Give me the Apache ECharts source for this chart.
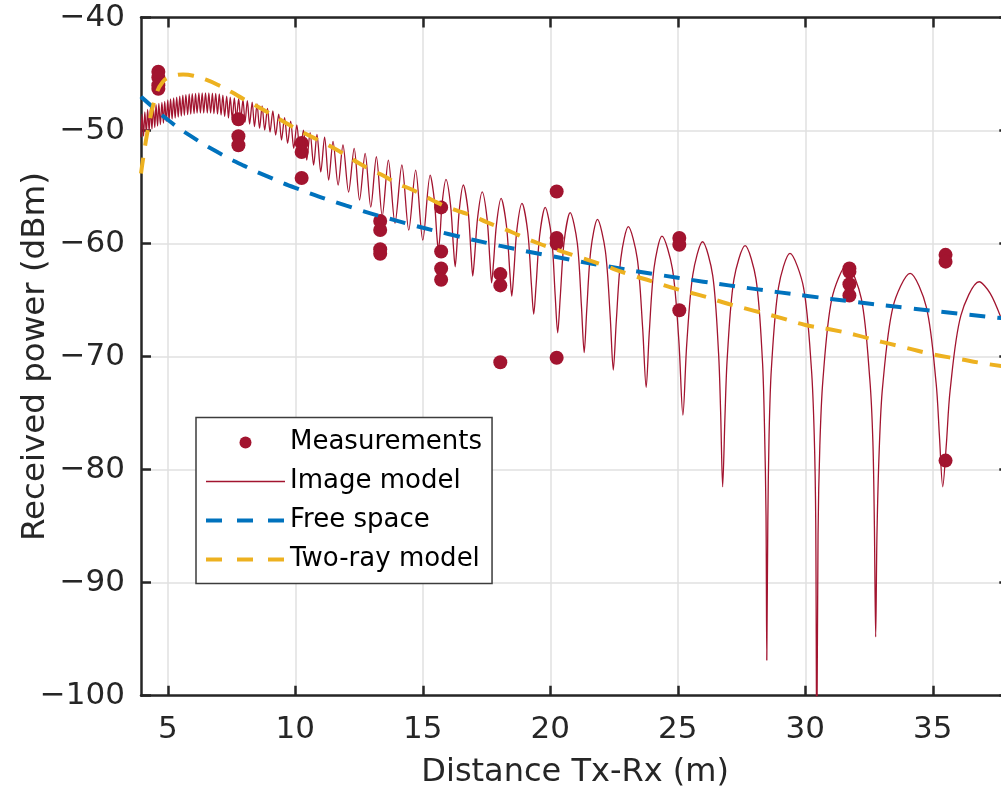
<!DOCTYPE html>
<html><head><meta charset="utf-8">
<script src="https://cdn.jsdelivr.net/npm/echarts@6.0.0/dist/echarts.min.js"></script>
<style>html,body{margin:0;padding:0;background:#fff;overflow:hidden}#c{width:1001px;height:795px}</style>
</head><body><div id="c"></div>
<script>
// ---- data ----
const xTicks = [5, 10, 15, 20, 25, 30, 35];
const yTicks = [-100, -90, -80, -70, -60, -50, -40];
const xRange = [3.95, 38.0];
const yRange = [-100, -40];

const measurements = [
  [4.63,-44.8],[4.63,-45.3],[4.63,-46.0],[4.63,-46.3],
  [7.77,-49.0],[7.77,-50.5],[7.77,-51.3],
  [10.25,-51.1],[10.25,-51.9],[10.25,-54.2],
  [13.33,-58.0],[13.33,-58.8],[13.33,-60.5],[13.33,-60.9],
  [15.72,-56.8],[15.72,-60.7],[15.72,-62.2],[15.72,-63.2],
  [18.04,-62.7],[18.04,-63.7],[18.04,-70.5],
  [20.25,-55.4],[20.25,-59.5],[20.25,-60.0],[20.25,-70.1],
  [25.06,-59.5],[25.06,-60.1],[25.06,-65.9],
  [31.73,-62.2],[31.73,-62.5],[31.73,-63.6],[31.73,-64.6],
  [35.50,-61.0],[35.50,-61.6],[35.50,-79.2]
];

const imageModel = [
  [3.95,-50.6],[3.99,-48.54],[4.05,-50.49],[4.10,-48.36],[4.16,-50.22],[4.21,-48.14],[4.27,-50.04],
  [4.32,-47.98],[4.38,-49.87],[4.43,-47.83],[4.49,-49.73],[4.54,-47.70],[4.60,-49.60],[4.65,-47.61],
  [4.71,-49.47],[4.77,-47.52],[4.83,-49.34],[4.88,-47.42],[4.94,-49.20],[5.00,-47.30],[5.05,-49.07],
  [5.11,-47.21],[5.17,-48.98],[5.23,-47.12],[5.29,-48.89],[5.35,-47.04],[5.41,-48.81],[5.47,-46.95],
  [5.53,-48.72],[5.59,-46.88],[5.65,-48.65],[5.71,-46.83],[5.78,-48.59],[5.84,-46.77],[5.90,-48.54],
  [5.96,-46.73],[6.03,-48.50],[6.09,-46.71],[6.15,-48.45],[6.22,-46.68],[6.28,-48.45],[6.35,-46.68],
  [6.41,-48.45],[6.48,-46.68],[6.55,-48.45],[6.61,-46.68],[6.68,-48.45],[6.75,-46.70],[6.81,-48.50],
  [6.88,-46.72],[6.95,-48.54],[7.02,-46.77],[7.09,-48.63],[7.16,-46.86],[7.23,-48.76],[7.31,-46.95],
  [7.38,-48.89],[7.45,-47.04],[7.53,-48.98],[7.61,-47.12],[7.69,-48.94],[7.78,-47.19],[7.86,-49.03],
  [7.95,-47.26],[8.03,-49.25],[8.12,-47.35],[8.21,-49.42],[8.31,-47.48],[8.40,-49.66],[8.50,-47.65],
  [8.60,-49.81],[8.70,-47.83],[8.80,-49.96],[8.91,-48.05],[9.01,-50.13],[9.12,-48.27],[9.23,-50.40],
  [9.35,-48.54],[9.46,-50.84],[9.58,-48.85],[9.70,-51.13],[9.82,-49.16],[9.94,-51.58],[10.06,-49.51],
  [10.19,-52.02],[10.32,-49.96],[10.45,-52.61],[10.58,-50.18],[10.72,-53.05],[10.85,-50.35],
  [11.00,-53.67],[11.15,-50.58],[11.31,-54.38],[11.48,-50.97],[11.68,-54.82],[11.87,-51.28],
  [12.09,-55.44],[12.31,-51.58],[12.52,-56.15],[12.74,-52.02],[12.96,-56.77],[13.18,-52.32],
  [13.41,-57.57],[13.65,-52.61],[13.91,-58.19],[14.18,-53.05],[14.45,-58.81],[14.72,-53.50],
  [15.00,-59.69],[15.29,-53.94],
  [15.45,-56.09],[15.55,-59.24],[15.61,-60.58],[15.67,-59.42],[15.76,-56.42],[15.91,-54.32],
  [16.09,-56.62],[16.20,-60.22],[16.27,-62.05],[16.33,-60.52],[16.43,-57.07],[16.59,-54.82],
  [16.78,-57.17],[16.89,-60.82],[16.96,-62.88],[17.03,-61.22],[17.15,-57.72],[17.33,-55.42],
  [17.52,-57.77],[17.63,-61.42],[17.70,-63.47],[17.77,-61.80],[17.89,-58.30],[18.07,-56.00],
  [18.28,-58.40],[18.41,-62.40],[18.49,-64.65],[18.57,-62.54],[18.69,-58.79],[18.89,-56.44],
  [19.12,-59.04],[19.26,-63.64],[19.35,-66.24],[19.44,-63.80],[19.58,-59.35],[19.80,-56.80],
  [20.05,-59.45],[20.19,-64.50],[20.29,-67.89],[20.39,-64.77],[20.54,-59.87],[20.78,-57.27],
  [21.06,-59.97],[21.22,-65.47],[21.33,-69.65],[21.43,-65.86],[21.59,-60.56],[21.85,-57.86],
  [22.16,-60.66],[22.35,-66.46],[22.47,-71.19],[22.59,-66.81],[22.77,-61.26],[23.06,-58.51],
  [23.41,-61.31],[23.62,-67.41],[23.76,-72.73],[23.88,-67.94],[24.07,-62.14],[24.38,-59.34],
  [24.79,-62.24],[25.04,-68.54],[25.20,-75.18],[25.35,-68.94],[25.59,-62.74],[25.97,-59.84],
  [26.37,-62.84],[26.60,-69.74],[26.68,-74.90],[26.76,-81.52],[26.85,-75.30],[26.94,-70.09],
  [27.20,-63.19],[27.64,-60.19],
  [28.07,-63.19],[28.32,-70.39],[28.40,-76.20],[28.46,-84.00],[28.49,-96.86],[28.53,-84.70],
  [28.58,-76.90],[28.67,-71.07],[28.95,-63.87],[29.40,-60.87],
  [29.93,-63.87],[30.24,-71.07],[30.35,-76.90],[30.41,-84.70],[30.45,-106.0],[30.50,-85.70],
  [30.57,-77.90],[30.69,-72.10],[31.04,-64.90],[31.63,-61.90],
  [32.20,-64.90],[32.53,-72.00],[32.65,-77.50],[32.71,-85.00],[32.76,-94.80],[32.81,-85.80],
  [32.90,-78.20],[33.03,-72.70],[33.44,-65.60],[34.11,-62.64],
  [34.75,-65.64],[35.13,-72.34],[35.26,-77.00],[35.39,-81.52],[35.53,-77.80],[35.68,-72.98],
  [36.10,-66.38],[36.82,-63.38],[37.25,-64.40],[37.68,-66.59],[38.00,-68.80]
];

const freeSpace = [
  [3.95,-47.00],[4,-47.11],[5,-49.05],[6,-50.63],[7,-51.97],[8,-53.13],[9,-54.15],[10,-55.07],
  [12,-56.65],[14,-57.99],[16,-59.15],[18,-60.18],[20,-61.09],[22,-61.92],[24,-62.67],
  [26,-63.37],[28,-64.01],[30,-64.61],[32,-65.17],[34,-65.70],[36,-66.20],[38,-66.67]
];

const twoRay = [
  [3.95,-53.8],[4.1,-51.5],[4.25,-49.6],[4.5,-47.2],[4.8,-45.7],[5.2,-45.2],[5.6,-45.05],
  [6.0,-45.15],[6.5,-45.5],[7.0,-46.0],[7.5,-46.6],[8.0,-47.25],[8.5,-47.85],[9.0,-48.5],
  [9.5,-49.15],[10,-49.8],[10.5,-50.4],[11,-50.95],[11.5,-51.55],[12,-52.2],[12.5,-52.9],
  [13,-53.5],[13.5,-54.05],[14,-54.7],[14.5,-55.15],[15,-55.7],[15.5,-56.3],[16,-56.8],
  [16.5,-57.2],[17,-57.6],[17.5,-58.1],[18,-58.55],[18.5,-59.0],[19,-59.5],[19.5,-59.95],
  [20,-60.35],[21,-61.1],[22,-61.85],[23,-62.65],[24,-63.35],[25,-64.05],[26,-64.65],
  [27,-65.35],[28,-65.95],[29,-66.55],[30,-67.2],[31,-67.6],[32,-68.1],[33,-68.7],
  [34,-69.25],[35,-69.8],[36,-70.2],[37,-70.6],[38,-70.95]
];

const seriesNames = ['Measurements', 'Image model', 'Free space', 'Two-ray model'];
const colors = ['#A2142F', '#A2142F', '#0072BD', '#EDB120'];

// ---- chart ----
const FONT = 'DejaVu Sans';
const axisLineStyle = { color: '#262626', width: 2.5 };
const dash = [16, 12];
const chart = echarts.init(document.getElementById('c'), null, { renderer: 'canvas' });
const hiddenSymbol = { color: 'rgba(0,0,0,0)', opacity: 0, borderWidth: 0 };
const minusSign = v => String(v).replace('-', '\u2212');

const option = {
  animation: false,
  backgroundColor: '#ffffff',
  grid: { left: 141, top: 17.5, width: 868.3, height: 678.2, containLabel: false, outerBoundsMode: 'none' },
  legend: {
    orient: 'vertical', left: 196, top: 417.5,
    padding: [12, 10, 11, 8],
    itemWidth: 79, itemHeight: 12, itemGap: 13,
    backgroundColor: '#ffffff', borderColor: '#3c3c3c', borderWidth: 1.5, borderRadius: 0,
    textStyle: { fontFamily: FONT, fontSize: 26, color: '#000' },
    data: [
      { name: seriesNames[0], icon: 'circle', itemStyle: { color: colors[0] } },
      { name: seriesNames[1], itemStyle: hiddenSymbol, lineStyle: { color: colors[1], width: 1.5, type: 'solid' } },
      { name: seriesNames[2], itemStyle: hiddenSymbol, lineStyle: { color: colors[2], width: 4, type: [16, 15] } },
      { name: seriesNames[3], itemStyle: hiddenSymbol, lineStyle: { color: colors[3], width: 4, type: [16, 15] } }
    ],
    selectedMode: false
  },
  xAxis: [
    {
      type: 'value', min: xRange[0], max: xRange[1], position: 'bottom',
      name: 'Distance Tx-Rx (m)', nameLocation: 'middle', nameGap: 61, nameMoveOverlap: false,
      nameTextStyle: { fontFamily: FONT, fontSize: 32, color: '#262626' },
      axisLine: { show: true, onZero: false, lineStyle: axisLineStyle },
      axisTick: { show: true, inside: true, length: 10, lineStyle: axisLineStyle, customValues: xTicks },
      axisLabel: { fontFamily: FONT, fontSize: 31, color: '#262626', margin: 19, customValues: xTicks },
      splitLine: { show: true, lineStyle: { color: '#e0e0e0', width: 1.5 } }
    },
    {
      type: 'value', min: xRange[0], max: xRange[1], position: 'top',
      axisLine: { show: true, onZero: false, lineStyle: axisLineStyle },
      axisTick: { show: true, inside: true, length: 10, lineStyle: axisLineStyle, customValues: xTicks },
      axisLabel: { show: false },
      splitLine: { show: false }
    }
  ],
  yAxis: [
    {
      type: 'value', min: yRange[0], max: yRange[1], interval: 10, position: 'left',
      name: 'Received power (dBm)', nameLocation: 'middle', nameGap: 89, nameMoveOverlap: false,
      nameTextStyle: { fontFamily: FONT, fontSize: 32.5, color: '#262626' },
      axisLine: { show: true, onZero: false, lineStyle: axisLineStyle },
      axisTick: { show: true, inside: true, length: 10, lineStyle: axisLineStyle },
      axisLabel: { fontFamily: FONT, fontSize: 31, color: '#262626', margin: 16, padding: [5, 0, 0, 0],
                   formatter: v => yTicks.includes(v) ? minusSign(v) : '' },
      splitLine: { show: true, lineStyle: { color: '#e0e0e0', width: 1.5 } }
    },
    {
      type: 'value', min: yRange[0], max: yRange[1], interval: 10, position: 'right',
      axisLine: { show: true, onZero: false, lineStyle: axisLineStyle },
      axisTick: { show: true, inside: true, length: 10, lineStyle: axisLineStyle },
      axisLabel: { show: false },
      splitLine: { show: false }
    }
  ],
  series: [
    {
      name: seriesNames[0], type: 'scatter', data: measurements,
      symbol: 'circle', symbolSize: 14,
      itemStyle: { color: colors[0], opacity: 1 }, z: 2
    },
    {
      name: seriesNames[1], type: 'line', data: imageModel,
      symbol: 'none', smooth: 0.3, clip: true,
      lineStyle: { color: colors[1], width: 1.3 }, itemStyle: { color: colors[1] }, z: 3
    },
    {
      name: seriesNames[2], type: 'line', data: freeSpace,
      symbol: 'none', smooth: true, clip: true,
      lineStyle: { color: colors[2], width: 4, type: dash }, itemStyle: { color: colors[2] }, z: 4
    },
    {
      name: seriesNames[3], type: 'line', data: twoRay,
      symbol: 'none', smooth: true, clip: true,
      lineStyle: { color: colors[3], width: 4, type: dash }, itemStyle: { color: colors[3] }, z: 5
    }
  ]
};
chart.setOption(option);
</script>
</body></html>
